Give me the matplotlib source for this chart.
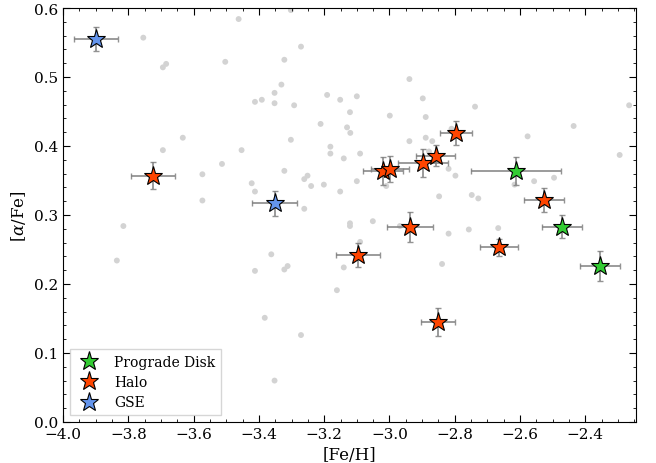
import matplotlib
matplotlib.use('Agg')
import matplotlib.pyplot as plt
from matplotlib.ticker import MultipleLocator

# background sample (grey dots)
bg_feh = [-3.754, -3.462, -3.302, -3.684, -3.694, -3.503, -3.412, -3.633, -3.694, -3.453,
          -3.513, -3.573, -3.422, -3.412, -3.573, -3.271, -3.322, -3.331, -3.352, -3.391,
          -3.352, -3.292, -3.191, -3.151, -3.100, -3.121, -2.939, -2.898, -2.999, -2.889,
          -3.211, -3.130, -3.120, -3.302, -3.181, -3.181, -3.090, -3.140, -2.939, -2.889,
          -2.869, -3.322, -3.251, -3.261, -3.240, -3.201, -3.151, -3.100, -3.010, -2.848,
          -3.261, -2.819, -2.738, -2.436, -2.266, -2.577, -2.295, -2.810, -2.798, -2.557,
          -2.496, -2.617, -2.748, -2.728, -3.815, -3.835, -3.412, -3.121, -3.121, -3.051,
          -2.968, -2.819, -3.362, -3.322, -3.312, -3.090, -3.140, -3.161, -2.839, -3.382,
          -3.271, -3.352, -2.757, -2.667, -2.879]
bg_alpha = [0.557, 0.584, 0.597, 0.519, 0.514, 0.522, 0.464, 0.412, 0.394, 0.394,
            0.374, 0.359, 0.346, 0.334, 0.321, 0.544, 0.525, 0.489, 0.477, 0.467,
            0.462, 0.459, 0.474, 0.467, 0.472, 0.449, 0.497, 0.469, 0.444, 0.442,
            0.432, 0.427, 0.419, 0.409, 0.399, 0.389, 0.389, 0.382, 0.407, 0.412,
            0.407, 0.364, 0.357, 0.352, 0.342, 0.344, 0.334, 0.349, 0.342, 0.327,
            0.309, 0.367, 0.457, 0.429, 0.459, 0.414, 0.387, 0.425, 0.357, 0.349,
            0.354, 0.344, 0.329, 0.324, 0.284, 0.234, 0.219, 0.288, 0.284, 0.291,
            0.284, 0.273, 0.243, 0.221, 0.226, 0.261, 0.224, 0.191, 0.229, 0.151,
            0.126, 0.060, 0.279, 0.281, 0.392]

# prograde disk
disk_feh   = [-2.613, -2.472, -2.355]
disk_alpha = [0.364, 0.283, 0.226]
disk_xerr  = [0.138, 0.061, 0.061]
disk_yerr  = [0.020, 0.017, 0.022]

# halo
halo_feh   = [-3.724, -3.096, -3.020, -2.998, -2.897, -2.858, -2.796, -2.527, -2.937, -2.665, -2.851]
halo_alpha = [0.357, 0.242, 0.364, 0.367, 0.375, 0.386, 0.419, 0.322, 0.283, 0.253, 0.145]
halo_xerr  = [0.067, 0.068, 0.060, 0.058, 0.077, 0.060, 0.050, 0.061, 0.070, 0.058, 0.052]
halo_yerr  = [0.020, 0.018, 0.020, 0.019, 0.020, 0.015, 0.017, 0.017, 0.022, 0.012, 0.020]

# GSE
gse_feh   = [-3.899, -3.351]
gse_alpha = [0.555, 0.317]
gse_xerr  = [0.066, 0.069]
gse_yerr  = [0.017, 0.018]

plt.rcParams['font.family'] = 'DejaVu Serif'
plt.rcParams['mathtext.fontset'] = 'dejavuserif'

fig = plt.figure(figsize=(6.56, 4.64), dpi=100)
ax = fig.add_axes([0.096, 0.0884, 0.8735, 0.8922])

ax.scatter(bg_feh, bg_alpha, s=18, color='#d3d3d3', edgecolors='none', zorder=1)

groups = [
	(disk_feh, disk_alpha, disk_xerr, disk_yerr, '#33cc33', 'Prograde Disk'),
	(halo_feh, halo_alpha, halo_xerr, halo_yerr, '#ff4500', 'Halo'),
	(gse_feh, gse_alpha, gse_xerr, gse_yerr, '#6495ed', 'GSE'),
]
for x, y, xe, ye, c, lab in groups :
	ax.errorbar(x, y, xerr=xe, yerr=ye, fmt='none', ecolor='#808080', elinewidth=1.3,
	            capsize=2, capthick=1, alpha=0.85, zorder=2)
	ax.plot(x, y, '*', ms=14, color=c, mec='black', mew=0.8, ls='none', label=lab, zorder=3)

ax.set_xlim(-4.0, -2.245)
ax.set_ylim(0.0, 0.6)
ax.xaxis.set_major_locator(MultipleLocator(0.2))
ax.xaxis.set_minor_locator(MultipleLocator(0.05))
ax.yaxis.set_major_locator(MultipleLocator(0.1))
ax.yaxis.set_minor_locator(MultipleLocator(0.02))
ax.tick_params(which='both', direction='in', top=True, right=True, labelsize=11)
ax.tick_params(which='major', length=5)
ax.tick_params(which='minor', length=2.5)

ax.set_xlabel('[Fe/H]', fontsize=12)
ax.set_ylabel(r'[$\alpha$/Fe]', fontsize=12)

ax.legend(loc='lower left', fontsize=10, fancybox=False, edgecolor='#cccccc',
          labelspacing=0.45)

fig.savefig('out.png', dpi=100)
